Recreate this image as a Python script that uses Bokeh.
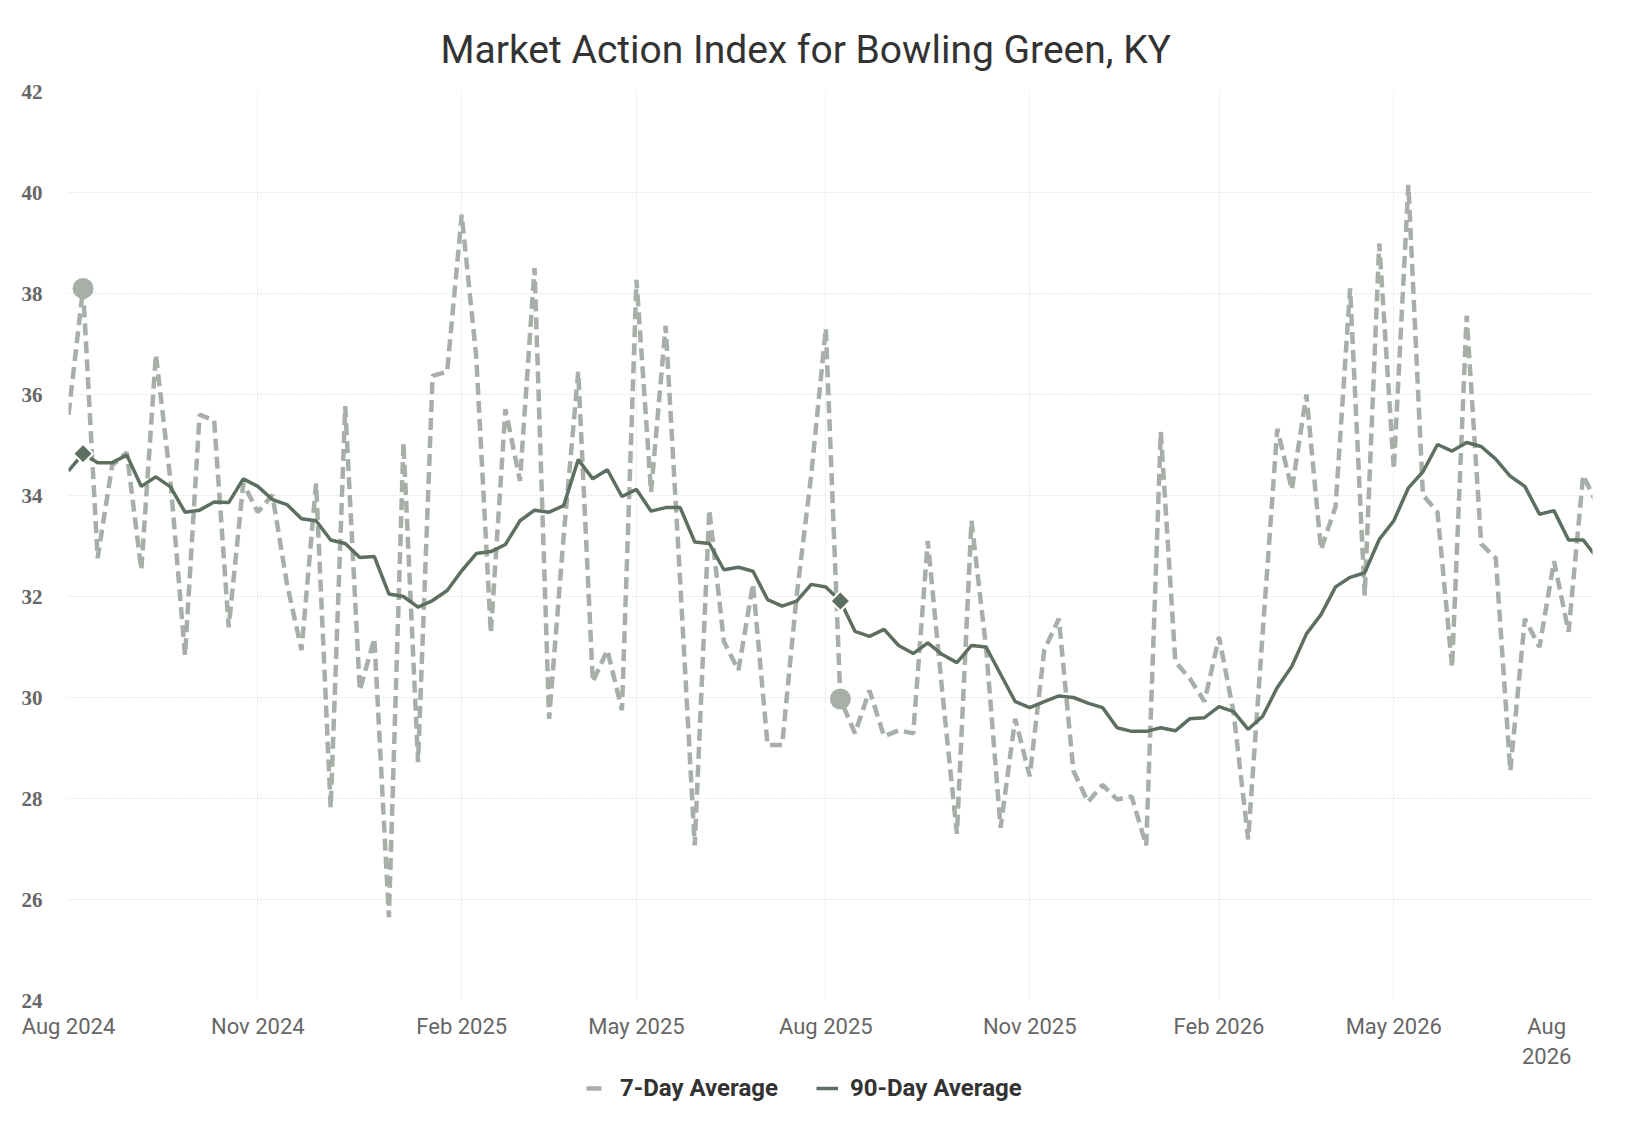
import math
import pandas as pd
from bokeh.plotting import figure
from bokeh.layouts import column
from bokeh.models import (ColumnDataSource, FixedTicker, CustomJSTickFormatter,
                          Legend, LegendItem, Range1d)
from bokeh.embed import file_html
from bokeh.resources import INLINE

# ---------------- data (weekly points) ----------------
start_date = "2024-08-02"

seven_day = [
    35.6, 38.10, 32.76, 34.6, 34.85, 32.53, 36.79, 34.3, 30.83, 35.60,
    35.49, 31.39, 34.24, 33.67, 34.01, 32.25, 30.94, 34.24, 27.81, 35.77,
    30.14, 31.17, 25.65, 35.05, 28.72, 36.37, 36.45, 39.56, 36.74, 31.28,
    35.71, 34.29, 38.50, 29.58, 33.2, 36.45, 30.31, 30.94, 29.75, 38.27,
    34.07, 37.36, 32.3, 27.07, 33.72, 31.11, 30.54, 32.25, 29.06, 29.06,
    32.02, 34.41, 37.31, 29.97, 29.29, 30.14, 29.23, 29.35, 29.29, 33.10,
    30.1, 27.30, 33.50, 31.0, 27.42, 29.58, 28.44, 30.94, 31.56, 28.55,
    27.93, 28.27, 27.98, 28.04, 27.07, 35.26, 30.71, 30.37, 29.92, 31.20,
    29.7, 27.19, 31.3, 35.32, 34.12, 36.0, 32.93, 33.78, 38.10, 32.02,
    38.99, 34.52, 40.15, 34.01, 33.67, 30.60, 37.56, 33.04, 32.76, 28.55,
    31.56, 31.0, 32.7, 31.3, 34.4, 33.8,
]

ninety_day = [
    34.49, 34.83, 34.65, 34.65, 34.80, 34.18, 34.37, 34.17, 33.67, 33.71,
    33.87, 33.86, 34.33, 34.18, 33.92, 33.82, 33.54, 33.50, 33.12, 33.05,
    32.77, 32.79, 32.05, 32.00, 31.79, 31.92, 32.12, 32.51, 32.85, 32.89,
    33.03, 33.50, 33.71, 33.67, 33.80, 34.71, 34.33, 34.51, 33.98, 34.12,
    33.69, 33.76, 33.76, 33.08, 33.05, 32.53, 32.58, 32.50, 31.94, 31.81,
    31.91, 32.24, 32.19, 31.91, 31.31, 31.21, 31.35, 31.03, 30.87, 31.08,
    30.85, 30.69, 31.03, 31.00, 30.46, 29.92, 29.80, 29.92, 30.03, 30.00,
    29.89, 29.80, 29.40, 29.33, 29.33, 29.40, 29.34, 29.58, 29.60, 29.82,
    29.72, 29.37, 29.63, 30.20, 30.62, 31.26, 31.64, 32.19, 32.38, 32.47,
    33.13, 33.50, 34.15, 34.47, 35.01, 34.88, 35.05, 34.97, 34.72, 34.38,
    34.18, 33.63, 33.70, 33.12, 33.12, 32.75,
]

marker_weeks = [1, 53]          # highlighted points (one year apart)
tick_weeks = [0, 13, 27, 39, 52, 66, 79, 91, 105]
tick_labels = ["Aug 2024", "Nov 2024", "Feb 2025", "May 2025", "Aug 2025",
               "Nov 2025", "Feb 2026", "May 2026", "Aug\n2026"]
y_ticks = [24, 26, 28, 30, 32, 34, 36, 38, 40, 42]
series_names = ["7-Day Average", "90-Day Average"]

# ---------------- styling ----------------
C7 = "#a7afa8"
C90 = "#5d6f61"

dates = [pd.Timestamp(start_date) + pd.Timedelta(weeks=i) for i in range(len(seven_day))]
src = ColumnDataSource(dict(date=dates, seven=seven_day, ninety=ninety_day))
msrc = ColumnDataSource(dict(date=[dates[i] for i in marker_weeks],
                             seven=[seven_day[i] for i in marker_weeks],
                             ninety=[ninety_day[i] for i in marker_weeks]))

x_end = dates[-1] - pd.Timedelta(days=2.5)

p = figure(x_axis_type="datetime", frame_width=1524, frame_height=909,
           min_border_left=68, min_border_right=16, min_border_top=91,
           min_border_bottom=72,
           x_range=Range1d(dates[0], x_end), y_range=Range1d(24, 42),
           output_backend="svg", toolbar_location=None)

p.title.text = "Market Action Index for Bowling Green, KY"
p.title.align = "left"
p.title.offset = 372
p.title.standoff = 37
p.title.text_font = "Roboto"
p.title.text_font_size = "39px"
p.title.text_font_style = "normal"
p.title.text_color = "#333333"

r7 = p.line(x="date", y="seven", source=src, line_color=C7, line_width=4.5,
            line_dash="12 6")
r90 = p.line(x="date", y="ninety", source=src, line_color=C90, line_width=3.5)
p.scatter(x="date", y="seven", source=msrc, marker="circle", size=21,
          fill_color=C7, line_color=None)
p.scatter(x="date", y="ninety", source=msrc, marker="square", size=14,
          angle=math.pi / 4, fill_color=C90, line_color="white", line_width=2)

ms = lambda d: d.value / 1e6
real_ticks = [ms(dates[i]) for i in tick_weeks]
label_ticks = list(real_ticks)
# last label is pulled inside the chart edge (as in the reference)
label_ticks[-1] = ms(dates[101] + pd.Timedelta(days=3.5))

p.xaxis.ticker = FixedTicker(ticks=label_ticks)
p.xaxis.formatter = CustomJSTickFormatter(
    args=dict(vals=label_ticks, labels=tick_labels),
    code="""
    for (let k = 0; k < vals.length; k++) {
        if (Math.abs(vals[k] - tick) < 1e6) { return labels[k]; }
    }
    return "";
    """)
p.xaxis.major_label_text_font = "Roboto"
p.xaxis.major_label_text_font_size = "22px"
p.xaxis.major_label_text_color = "#666666"
p.xaxis.major_label_standoff = 13
p.xaxis.axis_line_color = None
p.xaxis.major_tick_line_color = None
p.xaxis.minor_tick_line_color = None
p.xaxis.major_tick_out = 0
p.xaxis.major_tick_in = 0

p.yaxis.ticker = FixedTicker(ticks=y_ticks)
p.yaxis.major_label_text_font = "Liberation Serif"
p.yaxis.major_label_text_font_style = "bold"
p.yaxis.major_label_text_font_size = "21px"
p.yaxis.major_label_text_color = "#666666"
p.yaxis.major_label_standoff = 26
p.yaxis.axis_line_color = None
p.yaxis.major_tick_line_color = None
p.yaxis.minor_tick_line_color = None
p.yaxis.major_tick_out = 0
p.yaxis.major_tick_in = 0

p.ygrid.grid_line_color = "#d4d4d4"
p.ygrid.grid_line_dash = "1 2"
p.ygrid.grid_line_width = 1
p.xgrid.ticker = FixedTicker(ticks=real_ticks)
p.xgrid.grid_line_color = "#f1f1f1"
p.xgrid.grid_line_width = 1
p.outline_line_color = None

# ---------------- legend strip below the chart ----------------
leg = figure(width=1608, height=46, min_border=0,
             x_range=Range1d(0, 1), y_range=Range1d(0, 1),
             x_axis_location=None, y_axis_location=None,
             output_backend="svg", toolbar_location=None)
leg.grid.visible = False
leg.outline_line_color = None
# swatch renderers: their points lie outside the strip's ranges
l7 = leg.line(x=[2, 3], y=[2, 2], line_color=C7, line_width=4.5, line_dash="15 30")
l90 = leg.line(x=[2, 3], y=[2, 2], line_color=C90, line_width=3.5)

legend = Legend(items=[LegendItem(label=series_names[0], renderers=[l7]),
                       LegendItem(label=series_names[1], renderers=[l90])],
                orientation="horizontal", location=(518, 16),
                glyph_width=22, glyph_height=20, label_standoff=12, spacing=38,
                padding=0, margin=0, border_line_color=None,
                background_fill_alpha=0,
                label_text_font="Roboto", label_text_font_size="24px",
                label_text_font_style="bold", label_text_color="#333333")
leg.add_layout(legend, "center")

layout = column(p, leg, spacing=0)
open("out.html", "w").write(file_html(layout, INLINE))
